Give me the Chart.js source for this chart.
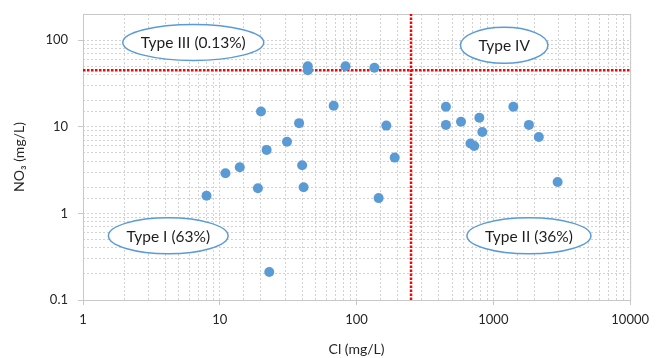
<!DOCTYPE html>
<html lang="en">
<head>
<meta charset="UTF-8">
<title>NO3 vs Cl</title>
<script src="https://cdn.jsdelivr.net/npm/chart.js"></script>
<style>
  body { margin: 0; background: #fff; }
  .box { width: 656px; height: 358px; }
</style>
</head>
<body>
<div class="box"><canvas id="myChart"></canvas></div>
<script>
// data
const clValues  = [8, 11, 14, 19, 20, 22, 23, 31, 38, 40, 41, 44, 44, 68, 83, 135, 165, 190, 145,
                   450, 450, 580, 790, 830, 680, 725, 1400, 1820, 2150, 2950];
const no3Values = [1.6, 2.9, 3.4, 1.95, 15, 5.4, 0.21, 6.7, 11, 3.6, 2.0, 50, 45, 17.5, 50, 48, 10.3, 4.4, 1.5,
                   17, 10.5, 11.4, 12.7, 8.7, 6.4, 6.0, 17, 10.5, 7.6, 2.3];
const xTicks = [1, 10, 100, 1000, 10000];
const yTicks = [0.1, 1, 10, 100];
const clLimit = 250;
const no3Limit = 45;
const zoneLabels = ['Type I (63%)', 'Type II (36%)', 'Type III (0.13%)', 'Type IV'];
const zoneCl  = [4.2, 1820, 6.4, 1200];
const zoneNo3 = [0.55, 0.55, 94, 87];

const xMin = 1, xMax = 10000, yMin = 0.1, yMax = 200;

const isMajor = (v, list) => list.some(t => Math.abs(Math.log10(v) - Math.log10(t)) < 1e-6);

// ellipses with the zone labels
const zonePlugin = {
  id: 'zones',
  afterDatasetsDraw(chart) {
    const c = chart.ctx;
    const sx = chart.scales.x, sy = chart.scales.y;
    c.save();
    c.font = '15.5px Lato, "Open Sans", sans-serif';
    c.textAlign = 'center';
    c.textBaseline = 'middle';
    zoneLabels.forEach((txt, i) => {
      const px = sx.getPixelForValue(zoneCl[i]);
      const py = sy.getPixelForValue(zoneNo3[i]);
      const w = c.measureText(txt).width;
      c.beginPath();
      c.ellipse(px, py, w / 2 + 18, 18, 0, 0, Math.PI * 2);
      c.fillStyle = '#fff';
      c.fill();
      c.lineWidth = 1.5;
      c.strokeStyle = '#5b9bd5';
      c.stroke();
      c.fillStyle = '#1e1e1e';
      c.fillText(txt, px, py + 1);
    });
    c.restore();
  },
  beforeDatasetsDraw(chart) {
    // plot frame
    const a = chart.chartArea, c = chart.ctx;
    c.save();
    c.strokeStyle = '#c8c8c8';
    c.lineWidth = 1;
    c.strokeRect(a.left + 0.5, a.top + 0.5, a.right - a.left, a.bottom - a.top);
    c.restore();
  }
};

const ctx = document.getElementById('myChart').getContext('2d');
const myChart = new Chart(ctx, {
  type: 'scatter',
  data: {
    datasets: [
      {
        label: 'samples',
        data: clValues.map((v, i) => ({ x: v, y: no3Values[i] })),
        backgroundColor: '#5b9bd5',
        borderWidth: 0,
        pointRadius: 5,
        order: 1
      },
      {
        label: 'Cl limit',
        data: [{ x: clLimit, y: yMin }, { x: clLimit, y: yMax }],
        showLine: true,
        borderColor: '#ff0000',
        borderWidth: 2.5,
        borderDash: [2.5, 1.5],
        pointRadius: 0,
        order: 2
      },
      {
        label: 'NO3 limit',
        data: [{ x: xMin, y: no3Limit }, { x: xMax, y: no3Limit }],
        showLine: true,
        borderColor: '#ff0000',
        borderWidth: 2.5,
        borderDash: [2.5, 1.5],
        pointRadius: 0,
        order: 2
      }
    ]
  },
  options: {
    responsive: true,
    maintainAspectRatio: false,
    animation: false,
    layout: { padding: { top: 14, right: 23, left: 0, bottom: 0 } },
    plugins: {
      legend: { display: false },
      tooltip: { enabled: false }
    },
    scales: {
      x: {
        type: 'logarithmic',
        min: xMin,
        max: xMax,
        afterFit: (scale) => { scale.height = 58; },
        ticks: {
          autoSkip: false,
          maxRotation: 0,
          padding: 7,
          color: '#262626',
          font: { family: 'Lato, "Open Sans", sans-serif', size: 13 },
          callback: (v) => isMajor(v, xTicks) ? String(v) : ''
        },
        grid: {
          color: '#d2d2d2',
          tickLength: 5,
          tickColor: (c) => c.tick && isMajor(c.tick.value, xTicks) ? '#c8c8c8' : 'rgba(0,0,0,0)'
        },
        border: { display: false, dash: [2, 2] },
        title: {
          display: true,
          text: 'Cl (mg/L)',
          color: '#262626',
          font: { family: 'Lato, "Open Sans", sans-serif', size: 14 },
          padding: { top: 0, bottom: 0 }
        }
      },
      y: {
        type: 'logarithmic',
        min: yMin,
        max: yMax,
        afterFit: (scale) => {
          scale.width = 83;
          scale.paddingTop = 0;
          scale.paddingBottom = 0;
        },
        ticks: {
          autoSkip: false,
          padding: 10,
          color: '#262626',
          font: { family: 'Lato, "Open Sans", sans-serif', size: 13 },
          callback: (v) => isMajor(v, yTicks) ? String(v) : ''
        },
        grid: {
          color: (c) => c.tick && c.tick.value > 100 ? 'rgba(0,0,0,0)' : '#d2d2d2',
          tickLength: 5,
          tickColor: (c) => c.tick && isMajor(c.tick.value, yTicks) ? '#c8c8c8' : 'rgba(0,0,0,0)'
        },
        border: { display: false, dash: [2, 2] },
        title: {
          display: true,
          text: 'NO₃ (mg/L)',
          color: '#262626',
          font: { family: 'Lato, "Open Sans", sans-serif', size: 14 },
          padding: { top: 11, bottom: 0 }
        }
      }
    }
  },
  plugins: [zonePlugin]
});
</script>
</body>
</html>
